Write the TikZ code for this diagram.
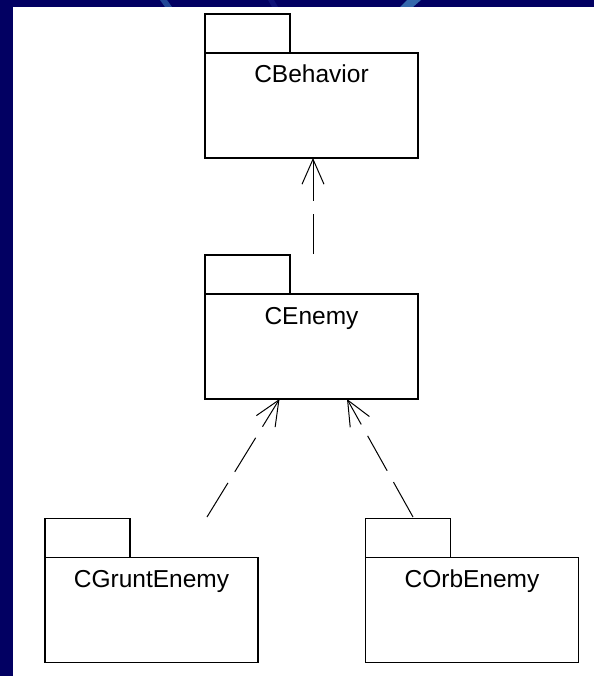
\documentclass[tikz,border=0pt]{standalone}
\usepackage{fontspec}
\setmainfont{Liberation Sans}
\usetikzlibrary{arrows.meta,positioning}
\definecolor{navy}{RGB}{2,0,98}
\definecolor{swoosha}{RGB}{34,70,150}
\definecolor{swooshb}{RGB}{14,16,118}
\definecolor{swooshc}{RGB}{52,104,172}
\begin{document}
\begin{tikzpicture}[x=1pt,y=-1pt,
	pkg/.style={draw, line width=1.3pt, outer sep=0pt, inner xsep=0pt, inner ysep=0pt,
		minimum width=213pt, text height=30pt, text depth=75pt,
		font=\fontsize{24.5}{29}\selectfont},
	tab/.style={draw, line width=1.3pt, outer sep=0pt, inner sep=0pt,
		minimum width=85pt, minimum height=39pt, anchor=south west},
	dep/.style={line width=1pt, dash pattern=on 40pt off 13pt,
		-{Straight Barb[length=25pt,width=22pt]}}]
	% slide background
	\useasboundingbox (0,0) rectangle (594,676);
	\fill[navy] (0,0) rectangle (594,676);
	\fill[swoosha] (160,0) -- (167,0) -- (172,7) -- (165,7) -- cycle;
	\fill[swooshb] (268,0) -- (274,0) -- (278,7) -- (272,7) -- cycle;
	\fill[swooshc] (407,0) -- (421,0) -- (413,7) -- (400,7) -- cycle;
	\fill[white] (13,7) rectangle (594,676);

	\node[pkg] (beh) at (311.5,105.5) {CBehavior};
	\node[tab] (behtab) at (beh.north west) {};
	\node[pkg] (enemy) at (311.5,346.5) {CEnemy};
	\node[tab] (enemytab) at (enemy.north west) {};
	\node[pkg] (grunt) at (151.5,610) {CGruntEnemy};
	\node[tab] (grunttab) at (grunt.north west) {};
	\node[pkg] (orb) at (472,610) {COrbEnemy};
	\node[tab] (orbtab) at (orb.north west) {};

	\coordinate (e1) at (313,254);
	\coordinate (g1) at (207,517);
	\coordinate (o1) at (413,517);

	\draw[dep] (e1) -- (e1 |- beh.south);
	\draw[dep] (g1) -- ([xshift=-32pt]enemy.south);
	\draw[dep] (o1) -- ([xshift=35.5pt]enemy.south);
\end{tikzpicture}
\end{document}
